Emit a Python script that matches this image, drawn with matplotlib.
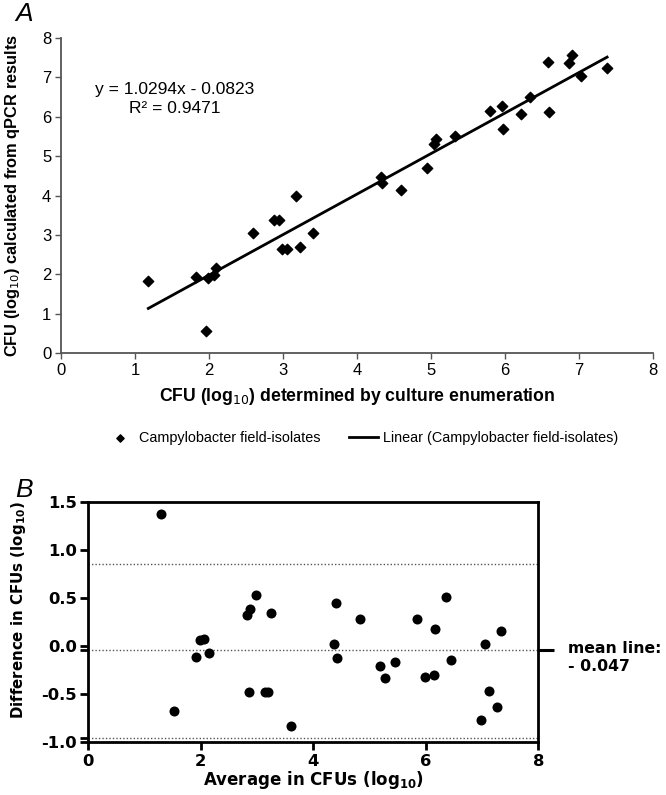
import matplotlib
matplotlib.use("Agg")
import matplotlib.pyplot as plt
import numpy as np

# ---- Panel A data ----
culture_x = [1.18, 1.82, 1.96, 1.98, 2.07, 2.09, 2.59, 2.88, 2.94, 3.18, 2.98, 3.05, 3.23, 3.40,
             4.33, 4.34, 4.59, 4.95, 5.04, 5.07, 5.33, 5.80, 5.96, 5.97, 6.22, 6.34, 6.58, 6.59,
             6.86, 6.91, 7.03, 7.38]
qpcr_y = [1.83, 1.92, 0.56, 1.91, 1.99, 2.17, 3.06, 3.37, 3.38, 4.00, 2.65, 2.65, 2.70, 3.04,
          4.47, 4.32, 4.15, 4.69, 5.32, 5.43, 5.52, 6.15, 6.27, 5.70, 6.06, 6.50, 7.38, 6.11,
          7.37, 7.58, 7.04, 7.23]
slope = 1.0294
intercept = -0.0823
r2 = 0.9471
a_ticks = [0, 1, 2, 3, 4, 5, 6, 7, 8]

# ---- Panel B data ----
avg_x = [1.29, 2.99, 2.88, 2.83, 3.25, 1.98, 2.06, 1.91, 2.15, 1.52, 2.85, 3.14, 3.19, 3.61,
         4.40, 6.36, 4.83, 5.85, 6.16, 7.33, 7.05, 4.36, 4.43, 5.18, 5.45, 5.27, 5.99, 6.15,
         6.44, 7.13, 7.27, 6.99]
diff_y = [1.375, 0.53, 0.385, 0.325, 0.345, 0.063, 0.077, -0.115, -0.073, -0.675, -0.48, -0.48,
          -0.477, -0.84, 0.447, 0.508, 0.285, 0.285, 0.174, 0.16, 0.018, 0.024, -0.122, -0.205,
          -0.167, -0.337, -0.324, -0.30, -0.146, -0.473, -0.64, -0.77]
mean_diff = -0.047
upper_loa = 0.856
lower_loa = -0.957
b_xticks = [0, 2, 4, 6, 8]
b_yticks = [-1.0, -0.5, 0.0, 0.5, 1.0, 1.5]

famA = ['Liberation Sans', 'DejaVu Sans']
famB = ['DejaVu Sans']

plt.rcParams['font.family'] = famA
plt.rcParams['mathtext.fontset'] = 'custom'

fig = plt.figure(figsize=(6.66, 7.95), dpi=100)

# ================= Panel A =================
axA = fig.add_axes([61/666, 1-353/795, 592/666, 315/795])
gray = '#555555'
axA.scatter(culture_x, qpcr_y, marker='D', s=28, color='black', zorder=3,
            label='Campylobacter field-isolates')
xl = np.array([min(culture_x), max(culture_x)])
axA.plot(xl, slope*xl + intercept, color='black', lw=2,
         label='Linear (Campylobacter field-isolates)')
axA.set_xlim(0, 8)
axA.set_ylim(0, 8)
axA.set_xticks(a_ticks)
axA.set_yticks(a_ticks)
for s in ['top', 'right']:
    axA.spines[s].set_visible(False)
for s in ['left', 'bottom']:
    axA.spines[s].set_color(gray)
    axA.spines[s].set_linewidth(1.3)
axA.tick_params(direction='out', length=4, width=1, color=gray, labelsize=12, pad=3)
axA.set_xlabel('CFU (log$_{10}$) determined by culture enumeration', fontsize=12.7,
               fontweight='bold', labelpad=6, family=famA)
axA.set_ylabel('CFU (log$_{10}$) calculated from qPCR results', fontsize=11.8,
               fontweight='bold', labelpad=14, family=famA)
axA.text(1.54, 6.68, f'y = {slope}x - {abs(intercept)}', fontsize=12.5, ha='center',
         va='center', family=famA)
axA.text(1.54, 6.22, f'R² = {r2}', fontsize=12.5, ha='center', va='center', family=famA)
fig.text(15/666, 1-14/795, 'A', fontsize=19, style='italic', va='center', ha='left',
         family=famA)

leg = axA.legend(loc='upper center', bbox_to_anchor=(0.508, -0.205), ncol=2, frameon=False,
                 prop={'family': famA, 'size': 10.4}, handlelength=2.0, columnspacing=2.0,
                 handletextpad=0.3, markerscale=0.7)

# ================= Panel B =================
axB = fig.add_axes([88.3/666, 1-741.7/795, 450/666, 239.4/795])
axB.scatter(avg_x, diff_y, marker='o', s=52, color='black', zorder=3, linewidths=0)
for yv in [upper_loa, mean_diff, lower_loa]:
    axB.axhline(yv, color='#555555', lw=1.0, ls=(0, (1, 1.5)), zorder=1)
axB.set_xlim(0, 8)
axB.set_ylim(-1.0, 1.5)
axB.set_xticks(b_xticks)
axB.set_yticks(b_yticks)
axB.set_yticklabels([f'{v:.1f}' for v in b_yticks])
axB.set_yticks([mean_diff, lower_loa], minor=True)
for s in axB.spines.values():
    s.set_linewidth(2)
axB.tick_params(which='both', direction='out', length=6, width=2, labelsize=11.8)
axB.tick_params(axis='x', pad=3)
axB.tick_params(axis='y', pad=2)
axB.tick_params(which='minor', length=6)
for lab in axB.get_xticklabels() + axB.get_yticklabels():
    lab.set_fontweight('bold')
    lab.set_family(famB)
axB.set_xlabel('Average in CFUs (log$_{\\mathbf{10}}$)', fontsize=12, fontweight='bold',
               labelpad=0, family=famB)
axB.set_ylabel('Difference in CFUs (log$_{\\mathbf{10}}$)', fontsize=10.8, fontweight='bold',
               family=famB)
axB.yaxis.set_label_coords(-0.135, 0.55)
# right tick at mean
axB.plot([1.0, 1.035], [mean_diff, mean_diff], transform=axB.get_yaxis_transform(),
         color='black', lw=2.2, clip_on=False, solid_capstyle='butt')
axB.text(1.065, mean_diff + 0.1, 'mean line:\n- 0.047', transform=axB.get_yaxis_transform(),
         fontsize=11.3, fontweight='bold', va='top', ha='left', linespacing=1.25, family=famB)
fig.text(15/666, 1-490/795, 'B', fontsize=19, style='italic', va='center', ha='left',
         family=famA)

fig.savefig('out.png', dpi=100)
